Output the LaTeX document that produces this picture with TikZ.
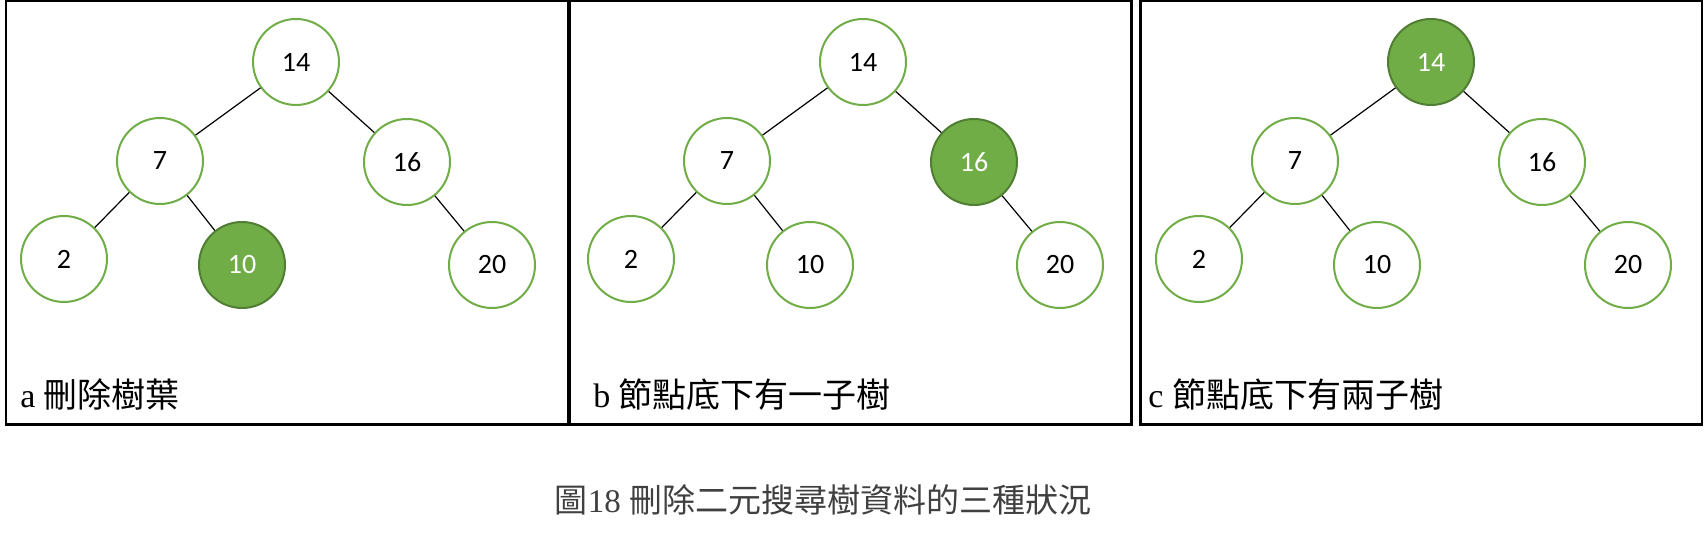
\documentclass[tikz,border=0pt]{standalone}
\usepackage{fontspec}
\setmainfont{Liberation Serif}
\newfontfamily\cjk{Noto Sans CJK TC}
\newfontfamily\numfont{Carlito}
\definecolor{leafgreen}{HTML}{70AD47}
\definecolor{darkgreen}{HTML}{507E32}
\definecolor{capgray}{HTML}{404040}
\begin{document}
\begin{tikzpicture}[x=0.5pt, y=-0.5pt,
  main/.style = {draw=leafgreen, circle, line width=1pt, fill=white, minimum size=43pt, inner sep=0pt, font=\numfont\fontsize{14}{16}\selectfont},
  hit/.style = {main, draw=darkgreen, fill=leafgreen, text=white},
  link/.style = {line width=0.6pt},
  panel/.style = {draw, line width=1.3pt},
  tag/.style = {anchor=base west, inner sep=0pt, font=\fontsize{17}{20}\selectfont}]
\useasboundingbox (0,0) rectangle (1704,533);
% panels
\draw[panel] (6,1) rectangle (568,424.5);
\draw[panel] (570,1) rectangle (1131.5,424.5);
\draw[panel] (1140.5,1) rectangle (1702,424.5);
% a: leaf
\node[main] (a14) at (296,62) {14};
\node[main] (a7) at (160,161) {7};
\node[main] (a16) at (407,162) {16};
\node[main] (a2) at (64,259) {2};
\node[hit] (a10) at (242,265) {10};
\node[main] (a20) at (492,265) {20};
\draw[link] (a14) -- (a7);
\draw[link] (a14) -- (a16);
\draw[link] (a7) -- (a2);
\draw[link] (a7) -- (a10);
\draw[link] (a16) -- (a20);
\node[tag] (atag) at (20,408) {a {\cjk 刪除樹葉}};
% b: one subtree
\node[main] (b14) at (863,62) {14};
\node[main] (b7) at (727,161) {7};
\node[hit] (b16) at (974,162) {16};
\node[main] (b2) at (631,259) {2};
\node[main] (b10) at (810,265) {10};
\node[main] (b20) at (1060,265) {20};
\draw[link] (b14) -- (b7);
\draw[link] (b14) -- (b16);
\draw[link] (b7) -- (b2);
\draw[link] (b7) -- (b10);
\draw[link] (b16) -- (b20);
\node[tag] (btag) at (593,408) {b {\cjk 節點底下有一子樹}};
% c: two subtrees
\node[hit] (c14) at (1431,62) {14};
\node[main] (c7) at (1295,161) {7};
\node[main] (c16) at (1542,162) {16};
\node[main] (c2) at (1199,259) {2};
\node[main] (c10) at (1377,265) {10};
\node[main] (c20) at (1628,265) {20};
\draw[link] (c14) -- (c7);
\draw[link] (c14) -- (c16);
\draw[link] (c7) -- (c2);
\draw[link] (c7) -- (c10);
\draw[link] (c16) -- (c20);
\node[tag] (ctag) at (1148,408) {c {\cjk 節點底下有兩子樹}};
% caption
\node[text=capgray, font=\fontsize{16.5}{19}\selectfont] (cap) at (823,500) {{\cjk 圖}18 {\cjk 刪除二元搜尋樹資料的三種狀況}};
\end{tikzpicture}
\end{document}
